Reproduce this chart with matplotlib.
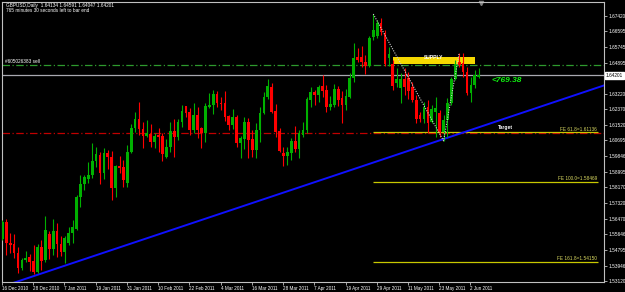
import numpy as np
import matplotlib.pyplot as plt

plt.rcParams['font.family'] = ['Liberation Sans', 'DejaVu Sans']

# GBPUSD daily candles, 16 Dec 2010 .. 6 Jun 2011
opens = [1.5538, 1.5630, 1.5517, 1.5511, 1.5463, 1.5382, 1.5425, 1.5441, 1.5420, 1.5361,
         1.5495, 1.5425, 1.5565, 1.5484, 1.5582, 1.5511, 1.5468, 1.5517, 1.5571, 1.5592,
         1.5765, 1.5835, 1.5862, 1.5883, 1.5959, 1.5991, 1.5894, 1.6002, 1.5980, 1.5813,
         1.5932, 1.5927, 1.5840, 1.6007, 1.6137, 1.6185, 1.6131, 1.6094, 1.6104, 1.6061,
         1.6099, 1.6094, 1.5980, 1.6034, 1.6121, 1.6088, 1.6169, 1.6255, 1.6223, 1.6126,
         1.6207, 1.6137, 1.6110, 1.6250, 1.6261, 1.6320, 1.6271, 1.6271, 1.6201, 1.6153,
         1.6196, 1.6056, 1.6077, 1.6169, 1.6077, 1.6018, 1.6126, 1.6218, 1.6304, 1.6358,
         1.6228, 1.6121, 1.6002, 1.5986, 1.6002, 1.6067, 1.6024, 1.6099, 1.6126, 1.6288,
         1.6331, 1.6315, 1.6363, 1.6342, 1.6250, 1.6261, 1.6347, 1.6298, 1.6261, 1.6304,
         1.6406, 1.6519, 1.6519, 1.6492, 1.6471, 1.6627, 1.6633, 1.6703, 1.6649, 1.6514,
         1.6482, 1.6379, 1.6352, 1.6401, 1.6406, 1.6358, 1.6288, 1.6207, 1.6185, 1.6250,
         1.6169, 1.6223, 1.6218, 1.6115, 1.6180, 1.6271, 1.6401, 1.6492, 1.6487, 1.6439,
         1.6325, 1.6368, 1.64134]
highs = [1.5641, 1.5646, 1.5571, 1.5565, 1.5495, 1.5436, 1.5474, 1.5458, 1.5506, 1.5511,
         1.5533, 1.5662, 1.5582, 1.5646, 1.5625, 1.5555, 1.5555, 1.5603, 1.5641, 1.5776,
         1.5883, 1.5883, 1.5953, 1.6056, 1.6034, 1.6007, 1.6029, 1.6018, 1.6013, 1.5937,
         1.5986, 1.5964, 1.6045, 1.6158, 1.6223, 1.6277, 1.6169, 1.6180, 1.6158, 1.6110,
         1.6137, 1.6110, 1.6077, 1.6169, 1.6185, 1.6185, 1.6261, 1.6255, 1.6244, 1.6271,
         1.6250, 1.6142, 1.6271, 1.6325, 1.6342, 1.6336, 1.6304, 1.6336, 1.6207, 1.6239,
         1.6207, 1.6094, 1.6196, 1.6191, 1.6126, 1.6164, 1.6250, 1.6331, 1.6401, 1.6379,
         1.6266, 1.6137, 1.6034, 1.6034, 1.6083, 1.6147, 1.6126, 1.6169, 1.6304, 1.6358,
         1.6342, 1.6368, 1.6422, 1.6368, 1.6309, 1.6374, 1.6363, 1.6336, 1.6347, 1.6433,
         1.6595, 1.6568, 1.6579, 1.6530, 1.6633, 1.6751, 1.6719, 1.6730, 1.6665, 1.6573,
         1.6503, 1.6460, 1.6433, 1.6460, 1.6439, 1.6385, 1.6315, 1.6223, 1.6277, 1.6288,
         1.6261, 1.6304, 1.6234, 1.6207, 1.6298, 1.6412, 1.6503, 1.6541, 1.6541, 1.6465,
         1.6412, 1.6449, 1.64591]
lows = [1.5533, 1.5452, 1.5463, 1.5436, 1.5355, 1.5371, 1.5414, 1.5366, 1.5350, 1.5355,
        1.5371, 1.5414, 1.5431, 1.5452, 1.5441, 1.5447, 1.5409, 1.5506, 1.5517, 1.5587,
        1.5711, 1.5803, 1.5840, 1.5867, 1.5927, 1.5835, 1.5862, 1.5916, 1.5749, 1.5765,
        1.5894, 1.5819, 1.5819, 1.6002, 1.6115, 1.6099, 1.6029, 1.6088, 1.6034, 1.6029,
        1.6007, 1.5959, 1.5975, 1.6007, 1.5980, 1.6072, 1.6142, 1.6196, 1.6099, 1.6110,
        1.6083, 1.6029, 1.6061, 1.6244, 1.6212, 1.6250, 1.6234, 1.6174, 1.6126, 1.6131,
        1.6034, 1.5975, 1.6024, 1.5975, 1.5980, 1.5975, 1.6061, 1.6212, 1.6293, 1.6218,
        1.6088, 1.6007, 1.5932, 1.5937, 1.5964, 1.6007, 1.5975, 1.6088, 1.6110, 1.6250,
        1.6261, 1.6277, 1.6304, 1.6223, 1.6234, 1.6250, 1.6255, 1.6164, 1.6234, 1.6298,
        1.6385, 1.6492, 1.6465, 1.6428, 1.6465, 1.6611, 1.6622, 1.6638, 1.6471, 1.6471,
        1.6342, 1.6358, 1.6271, 1.6315, 1.6293, 1.6277, 1.6164, 1.6169, 1.6164, 1.6110,
        1.6164, 1.6088, 1.6088, 1.6067, 1.6088, 1.6261, 1.6395, 1.6465, 1.6412, 1.6315,
        1.6277, 1.6352, 1.64047]
closes = [1.5630, 1.5517, 1.5506, 1.5463, 1.5382, 1.5425, 1.5436, 1.5414, 1.5361, 1.5495,
          1.5420, 1.5587, 1.5484, 1.5582, 1.5511, 1.5468, 1.5544, 1.5571, 1.5603, 1.5765,
          1.5835, 1.5873, 1.5883, 1.5959, 1.5997, 1.5894, 1.6002, 1.5980, 1.5813, 1.5932,
          1.5921, 1.5856, 1.6007, 1.6137, 1.6185, 1.6131, 1.6094, 1.6110, 1.6061, 1.6094,
          1.6088, 1.5997, 1.6034, 1.6121, 1.6088, 1.6169, 1.6228, 1.6218, 1.6126, 1.6207,
          1.6126, 1.6110, 1.6255, 1.6261, 1.6320, 1.6271, 1.6266, 1.6196, 1.6153, 1.6196,
          1.6056, 1.6083, 1.6169, 1.6072, 1.6018, 1.6126, 1.6218, 1.6304, 1.6363, 1.6223,
          1.6115, 1.6013, 1.5986, 1.6007, 1.6067, 1.6024, 1.6110, 1.6126, 1.6293, 1.6331,
          1.6315, 1.6358, 1.6336, 1.6250, 1.6266, 1.6347, 1.6288, 1.6261, 1.6309, 1.6406,
          1.6514, 1.6503, 1.6492, 1.6471, 1.6622, 1.6665, 1.6703, 1.6654, 1.6482, 1.6536,
          1.6363, 1.6401, 1.6401, 1.6358, 1.6336, 1.6288, 1.6185, 1.6185, 1.6250, 1.6164,
          1.6239, 1.6244, 1.6115, 1.6180, 1.6271, 1.6401, 1.6482, 1.6476, 1.6439, 1.6325,
          1.6368, 1.6422, 1.64201]

date_labels = ['16 Dec 2010', '28 Dec 2010', '7 Jan 2011', '19 Jan 2011', '31 Jan 2011',
               '10 Feb 2011', '22 Feb 2011', '4 Mar 2011', '16 Mar 2011', '28 Mar 2011',
               '7 Apr 2011', '19 Apr 2011', '29 Apr 2011', '11 May 2011', '23 May 2011',
               '2 Jun 2011']
date_step = 8

price_ticks = [1.67420, 1.66595, 1.65745, 1.64895, 1.63220, 1.62370, 1.61520, 1.60695,
               1.59846, 1.58995, 1.58170, 1.57320, 1.56470, 1.55646, 1.54795, 1.53946,
               1.53120]

fe_names = ['FE 61.8', 'FE 100.0', 'FE 161.8']
fe_values = [1.61136, 1.58469, 1.54150]

zigzag_bars = [95, 113, 117]
trend_bars = [0, 113]
trend_prices = [1.5282, 1.6077]
order_price = 1.6476
stop_price = 1.6108
supply_bars = [100, 121]
supply_prices = [1.6482, 1.6519]
last_price = closes[-1]

n = len(closes)
x = np.arange(n)
o = np.array(opens)
c = np.array(closes)
up = c >= o
col = np.where(up, '#00b000', '#ff0000')

fig = plt.figure(figsize=(6.25, 2.92), dpi=100, facecolor='black')
ax = fig.add_axes([2 / 625, 10 / 292, 602 / 625, 280 / 292], facecolor='black')

# horizontal lines
ax.axhline(order_price, color='#2e9a2e', lw=0.9, ls=(0, (6, 2, 1, 2)))
ax.axhline(stop_price, color='#c00000', lw=0.9, ls=(0, (6, 2, 1, 2)))
ax.axhline(last_price, color='#a8a8b0', lw=0.9)

# fibonacci expansion levels
for name, v in zip(fe_names, fe_values):
    ax.hlines(v, 95, 152.5, color='#c8c800', lw=0.9)
    ax.text(152.3, v + 0.0004, '%s=%.5f' % (name, v), color='#d8d860', fontsize=3.4,
            ha='right', va='bottom')

# trend line
slope = (trend_prices[1] - trend_prices[0]) / (trend_bars[1] - trend_bars[0])
tx = np.array([-1, 156])
ax.plot(tx, trend_prices[0] + slope * (tx - trend_bars[0]), color='#1010ff', lw=1.4)

# supply zone
ax.fill_between(supply_bars, supply_prices[0], supply_prices[1], color='#f5d800', lw=0, zorder=2)
ax.text(np.mean(supply_bars), supply_prices[1] - 0.0002, 'SUPPLY', color='white',
        fontsize=3.6, weight='bold', ha='center', va='center', zorder=6)

# candles
ax.vlines(x, lows, highs, color=col, lw=0.8, zorder=3)
body = np.where(np.abs(c - o) < 0.0002, 0.0002, c - o)
ax.bar(x, body, bottom=o, width=0.7, color=col, lw=0, zorder=4)

# zigzag
zz_y = [highs[zigzag_bars[0]], lows[zigzag_bars[1]], highs[zigzag_bars[2]]]
ax.plot(zigzag_bars, zz_y, color='#d0d0d0', lw=0.8, ls=(0, (1, 1.2)), zorder=5)

ax.text(125.2, 1.6395, '<769.38', color='#10f010', fontsize=6, weight='bold',
        style='italic', va='center')
ax.text(127, 1.6142, 'Target', color='white', fontsize=3.6, weight='bold', va='center')
ax.text(0.6, order_price + 0.0006, '#605026383 sell', color='white', fontsize=3.4,
        va='bottom')
ax.plot([122.6], [1.6812], marker='v', ms=3, color='#808080', clip_on=False)

ax.set_xlim(-0.05, 154.1)
ax.set_ylim(1.53066, 1.68158)

ax.set_xticks(np.arange(len(date_labels)) * date_step - 0.1)
ax.set_xticklabels(date_labels, ha='left', fontsize=3.3, color='white')
ax.set_yticks(price_ticks)
ax.set_yticklabels(['%.5f' % p for p in price_ticks], fontsize=3.4, color='white')
ax.yaxis.tick_right()
ax.tick_params(axis='both', colors='#c0c0c0', length=2, width=0.6, pad=1.2,
               labelcolor='white')
for s in ax.spines.values():
    s.set_color('#c0c0c0')
    s.set_linewidth(0.8)

# current price box
ax.text(1.003, last_price, '%.5f' % last_price, transform=ax.get_yaxis_transform(),
        fontsize=3.4, color='black', va='center', ha='left',
        bbox=dict(boxstyle='square,pad=0.2', fc='white', ec='white'))

fig.text(6 / 625, 1 - 5 / 292, 'GBPUSD,Daily  1.64134 1.64591 1.64047 1.64201',
         color='white', fontsize=3.4, va='center')
fig.text(6 / 625, 1 - 11 / 292, '765 minutes 30 seconds left to bar end',
         color='white', fontsize=3.4, va='center')

fig.savefig('out.png', dpi=100, facecolor='black')
